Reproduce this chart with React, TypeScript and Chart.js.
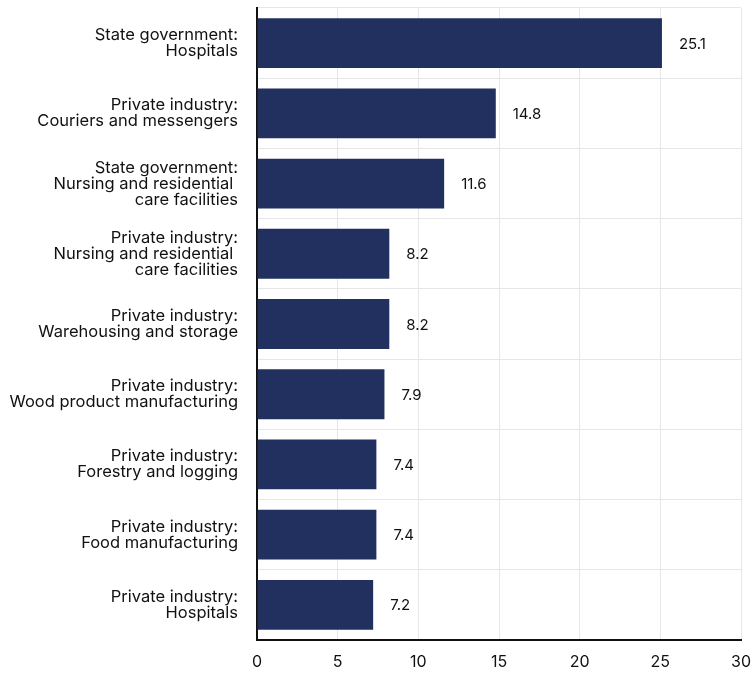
import React, { useEffect, useRef } from "react";
import { Chart, registerables } from "chart.js";

Chart.register(...registerables);

const categories: string[][] = [
  ["State government:", "Hospitals"],
  ["Private industry:", "Couriers and messengers"],
  ["State government:", "Nursing and residential ", "care facilities"],
  ["Private industry:", "Nursing and residential ", "care facilities"],
  ["Private industry:", "Warehousing and storage"],
  ["Private industry:", "Wood product manufacturing"],
  ["Private industry:", "Forestry and logging"],
  ["Private industry:", "Food manufacturing"],
  ["Private industry:", "Hospitals"],
];
const values: number[] = [25.1, 14.8, 11.6, 8.2, 8.2, 7.9, 7.4, 7.4, 7.2];
const valueLabels: string[] = ["25.1", "14.8", "11.6", "8.2", "8.2", "7.9", "7.4", "7.4", "7.2"];

const FONT = "Inter, 'Noto Sans', sans-serif";

const valueLabelPlugin = {
  id: "valueLabels",
  afterDatasetsDraw(chart: any) {
    const ctx = chart.ctx;
    const meta = chart.getDatasetMeta(0);
    ctx.save();
    ctx.font = `15px ${FONT}`;
    ctx.fillStyle = "#111111";
    ctx.textAlign = "left";
    ctx.textBaseline = "middle";
    meta.data.forEach((bar: any, i: number) => {
      ctx.fillText(valueLabels[i], bar.x + 17, bar.y + 1);
    });
    ctx.restore();
  },
};

export default function App() {
  const ref = useRef<HTMLCanvasElement | null>(null);
  useEffect(() => {
    document.body.style.margin = "0";
    const chart = new Chart(ref.current as HTMLCanvasElement, {
      type: "bar",
      data: {
        labels: categories,
        datasets: [
          {
            data: values,
            backgroundColor: "#21305f",
            borderWidth: 0,
            categoryPercentage: 1,
            barPercentage: 0.71,
          },
        ],
      },
      options: {
        indexAxis: "y",
        animation: false,
        responsive: false,
        maintainAspectRatio: false,
        layout: { padding: { top: 8, right: 0, bottom: 3, left: 0 } },
        plugins: { legend: { display: false }, tooltip: { enabled: false } },
        scales: {
          x: {
            min: 0,
            max: 30,
            afterFit(scale: any) {
              scale.height = 31;
              scale.paddingRight = 14;
              scale.paddingLeft = 0;
            },
            ticks: {
              stepSize: 5,
              maxRotation: 0,
              color: "#111111",
              font: { family: FONT, size: 16 },
              padding: 13,
            },
            grid: { color: "#e6e6e6", lineWidth: 1, drawTicks: false },
            border: { color: "#111111", width: 2 },
          },
          y: {
            afterFit(scale: any) {
              scale.width = 257;
              scale.paddingTop = 0;
              scale.paddingBottom = 0;
            },
            ticks: {
              color: "#111111",
              font: { family: FONT, size: 16.5, lineHeight: 0.97 },
              padding: 19,
            },
            grid: { color: "#e6e6e6", lineWidth: 1, drawTicks: false },
            border: { color: "#111111", width: 2 },
          },
        },
      },
      plugins: [valueLabelPlugin],
    });
    return () => chart.destroy();
  }, []);
  return (
    <div style={{ width: 755, height: 674 }}>
      <canvas ref={ref} width={755} height={674} style={{ display: "block" }} />
    </div>
  );
}
